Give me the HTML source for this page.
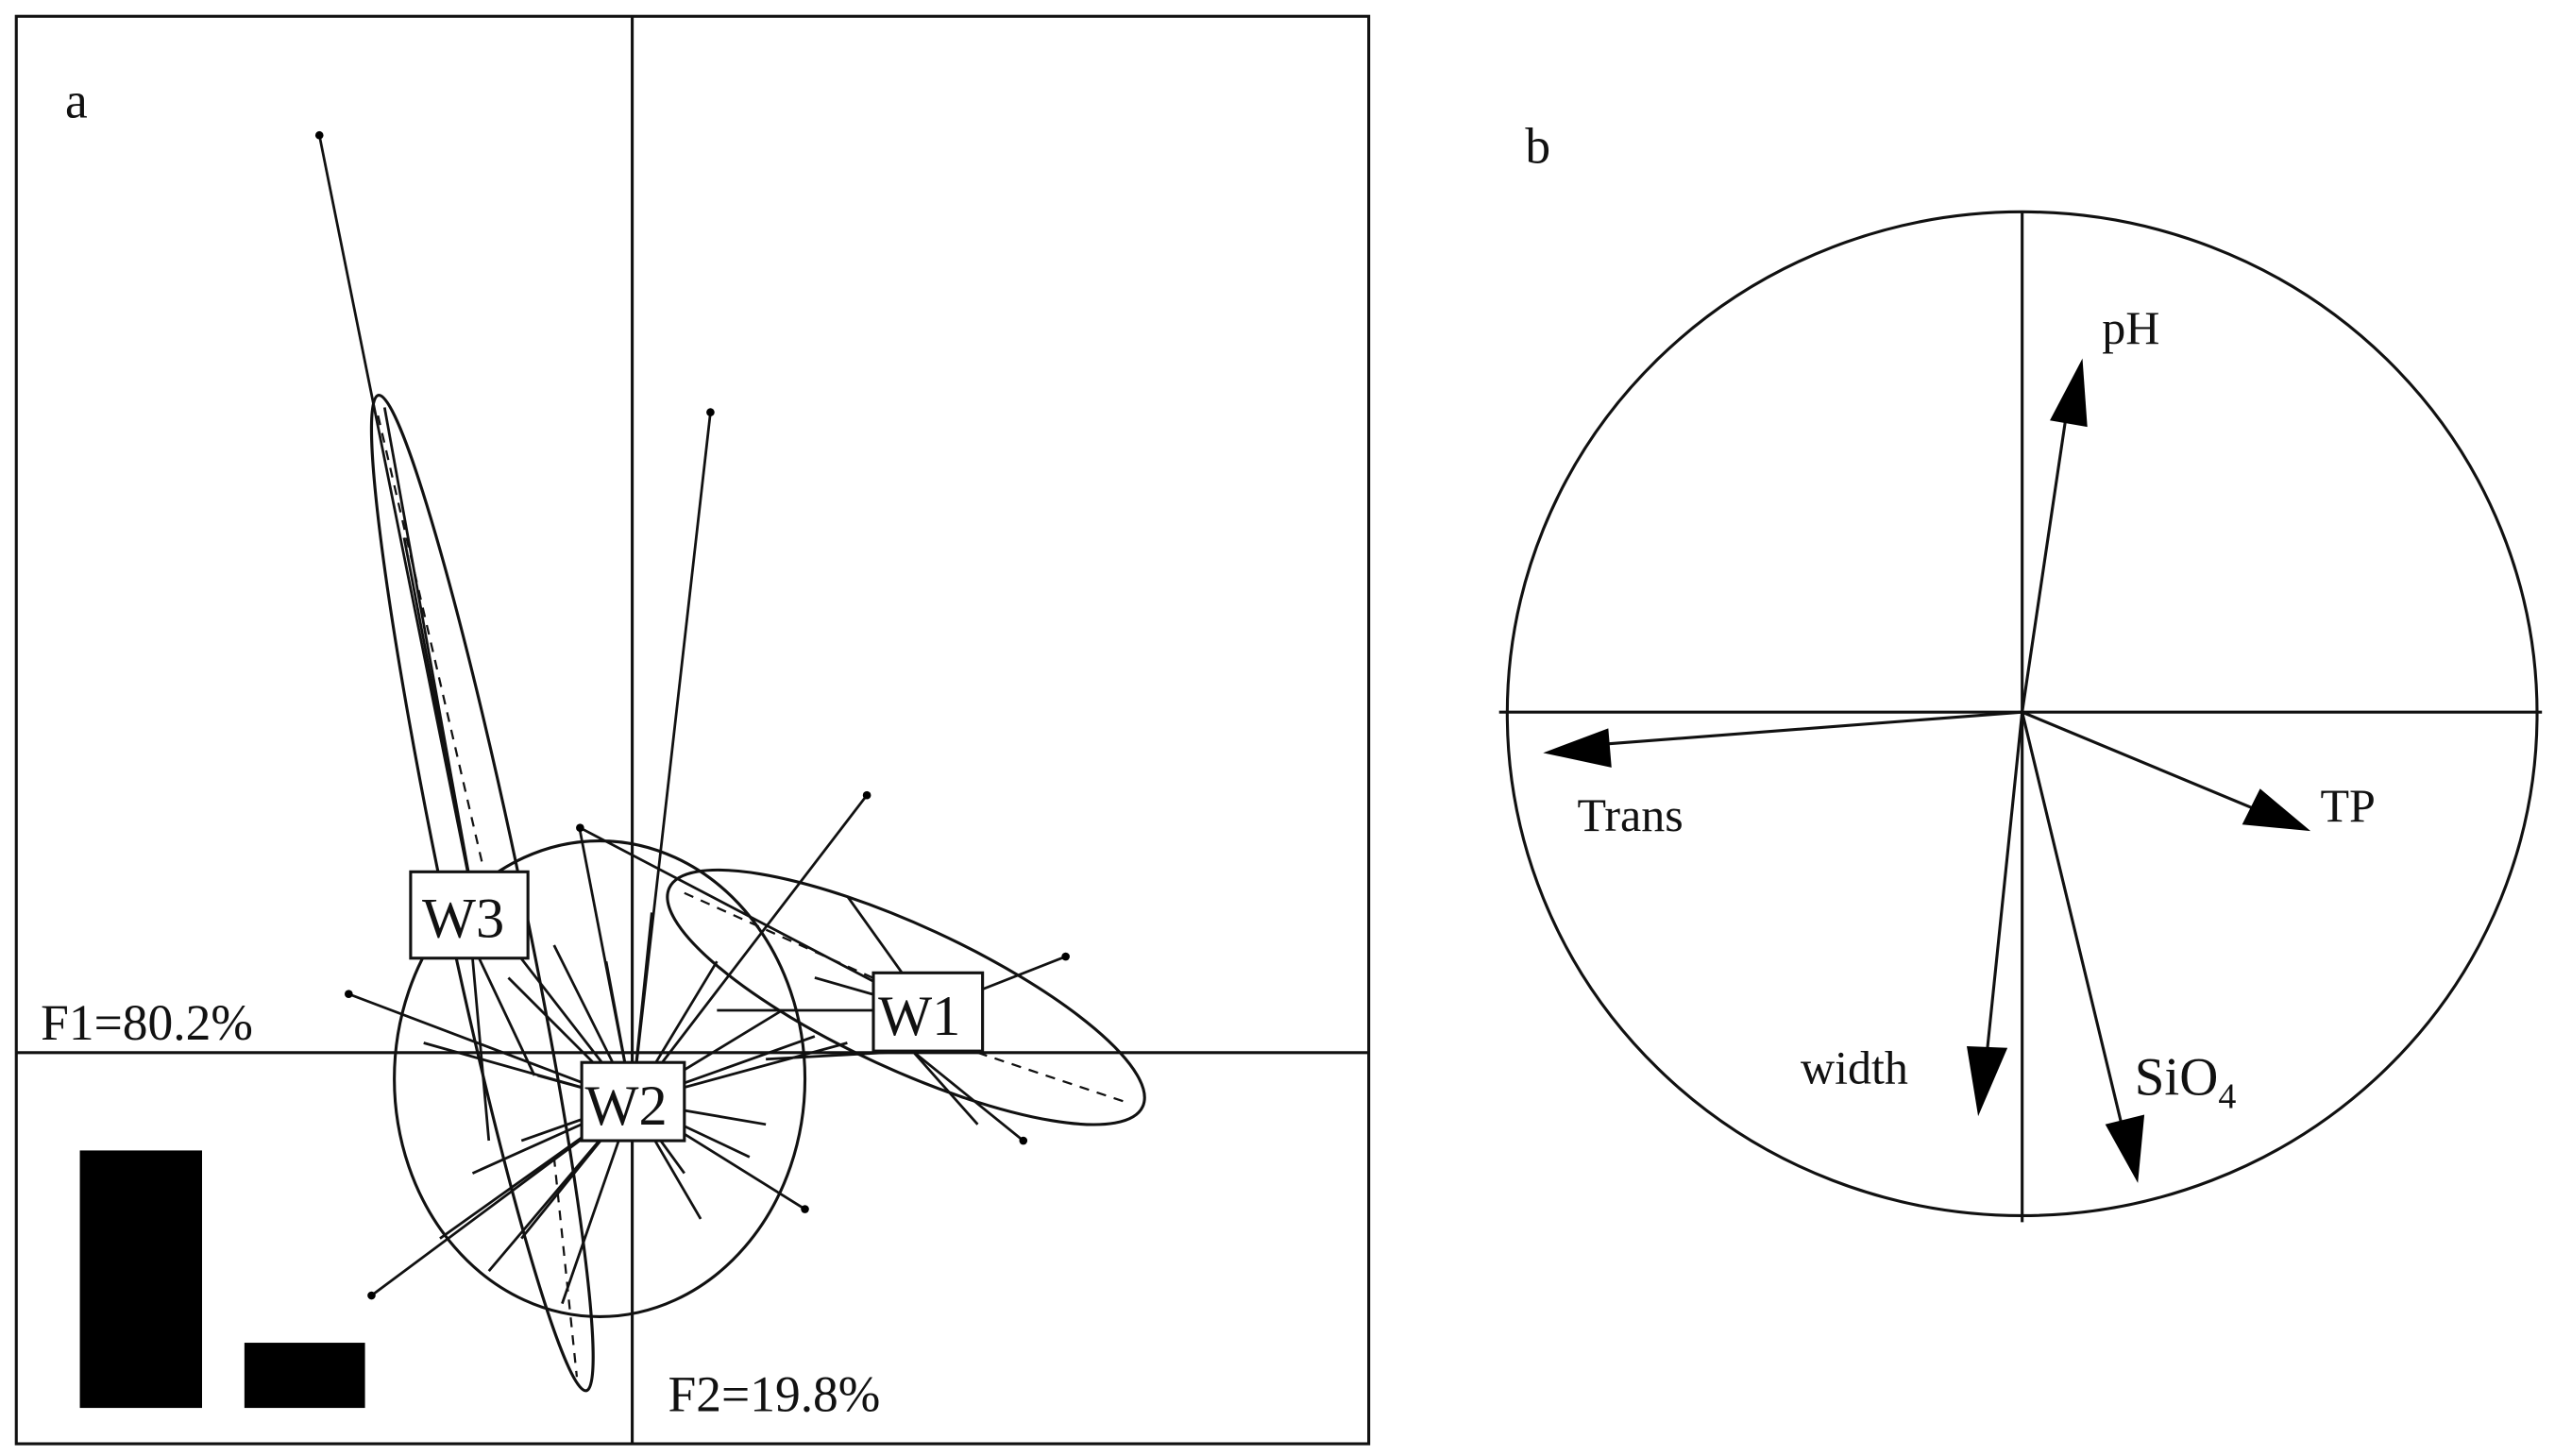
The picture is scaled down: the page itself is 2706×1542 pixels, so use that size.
<!DOCTYPE html>
<html><head><meta charset="utf-8"><style>html,body{margin:0;padding:0;background:#fff}svg{display:block}</style></head>
<body>
<svg width="2706" height="1542" viewBox="0 0 1568 893.5" preserveAspectRatio="none" xmlns="http://www.w3.org/2000/svg" font-family="Liberation Serif, serif">
<g fill="none" stroke="#111" stroke-width="1.8">
<rect x="10" y="10" width="830" height="876"/>
<line x1="388" y1="10" x2="388" y2="886"/>
<line x1="10" y1="646" x2="840" y2="646"/>
<ellipse cx="296" cy="548" rx="312" ry="24" transform="rotate(78.2 296 548)"/>
<ellipse cx="368" cy="662" rx="126" ry="146"/>
<ellipse cx="556" cy="612" rx="160" ry="44" transform="rotate(24.8 556 612)"/>
<g stroke-width="1.6">
<line x1="292" y1="560" x2="196" y2="83"/>
<line x1="292" y1="560" x2="236" y2="250"/>
<line x1="292" y1="560" x2="248" y2="330"/>
<line x1="296" y1="560" x2="318" y2="560"/>
<line x1="290" y1="588" x2="300" y2="700"/>
<line x1="294" y1="588" x2="328" y2="660"/>
<line x1="388" y1="676" x2="436" y2="253"/>
<line x1="388" y1="676" x2="532" y2="488"/>
<line x1="388" y1="676" x2="214" y2="610"/>
<line x1="388" y1="676" x2="228" y2="795"/>
<line x1="388" y1="676" x2="356" y2="510"/>
<line x1="388" y1="676" x2="494" y2="742"/>
<line x1="388" y1="676" x2="470" y2="690"/>
<line x1="388" y1="676" x2="430" y2="748"/>
<line x1="388" y1="676" x2="298" y2="560"/>
<line x1="388" y1="676" x2="340" y2="580"/>
<line x1="388" y1="676" x2="312" y2="600"/>
<line x1="388" y1="676" x2="260" y2="640"/>
<line x1="388" y1="676" x2="290" y2="720"/>
<line x1="388" y1="676" x2="270" y2="760"/>
<line x1="388" y1="676" x2="300" y2="780"/>
<line x1="388" y1="676" x2="320" y2="760"/>
<line x1="388" y1="676" x2="345" y2="800"/>
<line x1="388" y1="676" x2="365" y2="690"/>
<line x1="388" y1="676" x2="372" y2="590"/>
<line x1="388" y1="676" x2="400" y2="560"/>
<line x1="388" y1="676" x2="440" y2="590"/>
<line x1="388" y1="676" x2="480" y2="620"/>
<line x1="388" y1="676" x2="500" y2="636"/>
<line x1="388" y1="676" x2="520" y2="640"/>
<line x1="388" y1="676" x2="460" y2="710"/>
<line x1="388" y1="676" x2="420" y2="720"/>
<line x1="388" y1="676" x2="330" y2="660"/>
<line x1="388" y1="676" x2="320" y2="700"/>
<line x1="570" y1="620" x2="654" y2="587"/>
<line x1="570" y1="620" x2="520" y2="550"/>
<line x1="570" y1="620" x2="440" y2="620"/>
<line x1="570" y1="620" x2="356" y2="508"/>
<line x1="560" y1="645" x2="628" y2="700"/>
<line x1="560" y1="645" x2="600" y2="690"/>
<line x1="560" y1="645" x2="470" y2="650"/>
<line x1="570" y1="620" x2="500" y2="600"/>
</g>
<g stroke-dasharray="6,5" stroke-width="1.3">
<line x1="420" y1="548" x2="540" y2="602"/>
<line x1="600" y1="646" x2="690" y2="676"/>
<line x1="232" y1="255" x2="296" y2="530"/>
<line x1="340" y1="710" x2="354" y2="845"/>
</g>
</g>
<g fill="#000" stroke="none">
<circle cx="196" cy="83" r="2.5"/><circle cx="436" cy="253" r="2.5"/><circle cx="532" cy="488" r="2.5"/>
<circle cx="214" cy="610" r="2.5"/><circle cx="228" cy="795" r="2.5"/><circle cx="494" cy="742" r="2.5"/>
<circle cx="654" cy="587" r="2.5"/><circle cx="628" cy="700" r="2.5"/><circle cx="356" cy="508" r="2.5"/>
<rect x="49" y="706" width="75" height="158"/>
<rect x="150" y="824" width="74" height="40"/>
</g>
<g fill="#fff" stroke="#111" stroke-width="1.8">
<rect x="252" y="535" width="72" height="53"/>
<rect x="357" y="652" width="63" height="48"/>
<rect x="536" y="597" width="67" height="48"/>
</g>
<g fill="#111" font-size="35">
<text x="259" y="575">W3</text>
<text x="359" y="690">W2</text>
<text x="539" y="635">W1</text>
</g>
<g fill="#111" font-size="31">
<text x="40" y="72">a</text>
<text x="25" y="638">F1=80.2%</text>
<text x="410" y="866">F2=19.8%</text>
<text x="936" y="100">b</text>
</g>
<g fill="none" stroke="#111" stroke-width="1.8">
<ellipse cx="1241" cy="438" rx="316" ry="308"/>
<line x1="920" y1="437" x2="1560" y2="437"/>
<line x1="1241" y1="130" x2="1241" y2="750"/>
<line x1="1241" y1="437" x2="1268" y2="255"/>
<line x1="1241" y1="437" x2="980" y2="457"/>
<line x1="1241" y1="437" x2="1385" y2="497"/>
<line x1="1241" y1="437" x2="1219" y2="650"/>
<line x1="1241" y1="437" x2="1302" y2="690"/>
</g>
<g fill="#000" stroke="none">
<polygon points="1278,220 1281,262 1258,258"/>
<polygon points="947,462 987,447 989,471"/>
<polygon points="1418,510 1376,506 1387,484"/>
<polygon points="1214,685 1207,642 1232,643"/>
<polygon points="1312,726 1292,690 1316,684"/>
</g>
<g fill="#111" font-size="29">
<text x="1290" y="211">pH</text>
<text x="968" y="510">Trans</text>
<text x="1424" y="504">TP</text>
<text x="1105" y="665">width</text>
<text x="1310" y="672" font-size="33">SiO<tspan font-size="22" dy="8">4</tspan></text>
</g>
</svg>
</body></html>
